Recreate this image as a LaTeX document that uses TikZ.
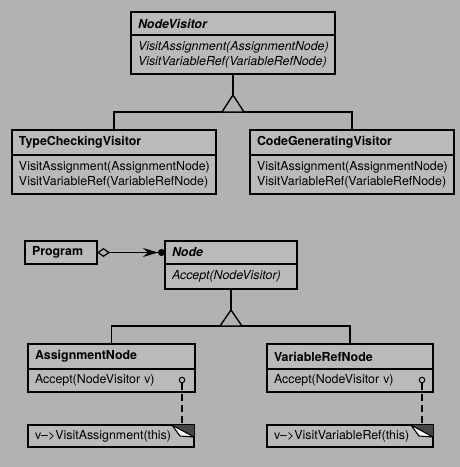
\documentclass[tikz,border=0pt]{standalone}
\usepackage{fontspec}
\setmainfont{TeX Gyre Heros}
\usetikzlibrary{positioning,arrows.meta}

\definecolor{paper}{gray}{0.70}
\definecolor{boxgray}{gray}{0.73}
\definecolor{foldgray}{gray}{0.28}

\tikzset{
  umlline/.style={line width=1.4pt},
  umlbox/.style={draw, umlline, fill=boxgray, inner xsep=7pt, inner ysep=0pt,
    outer sep=0pt, align=left, font=\fontsize{12.4}{15}\selectfont},
  clshead/.style={umlbox, font=\fontsize{12.4}{15}\selectfont\bfseries},
  clsops/.style={umlbox},
  notebox/.style={umlbox},
  lolli/.style={circle, draw, line width=1pt, fill=boxgray, inner sep=0pt, minimum size=5.5pt},
  notelink/.style={line width=1.2pt, dash pattern=on 7pt off 4pt}
}

\begin{document}
\begin{tikzpicture}[x=1pt, y=-1pt]
    % paper
    \fill[paper] (0,0) rectangle (460,467);

    % class NodeVisitor
    \node[clshead, text width=190pt, minimum height=23pt, anchor=north west] (nvhead) at (131,12) {\itshape NodeVisitor};
    \node[clsops, text width=190pt, minimum height=39pt, below=0pt of nvhead] (nvops) {\itshape VisitAssignment(AssignmentNode)\\\itshape VisitVariableRef(VariableRefNode)};

    % class TypeCheckingVisitor
    \node[clshead, text width=190pt, minimum height=25pt, anchor=north west] (tchead) at (12,130) {TypeCheckingVisitor};
    \node[clsops, text width=190pt, minimum height=39pt, below=0pt of tchead] (tcops) {VisitAssignment(AssignmentNode)\\VisitVariableRef(VariableRefNode)};

    % class CodeGeneratingVisitor
    \node[clshead, text width=190pt, minimum height=25pt, anchor=north west] (cghead) at (250,130) {CodeGeneratingVisitor};
    \node[clsops, text width=190pt, minimum height=39pt, below=0pt of cghead] (cgops) {VisitAssignment(AssignmentNode)\\VisitVariableRef(VariableRefNode)};

    % generalization NodeVisitor
    \coordinate (nvbar) at (233,112);
    \draw[umlline] (nvops.south) -- ++(0,21) coordinate (nvapex);
    \draw[umlline] (tchead.north) |- (nvbar) -| (cghead.north);
    \draw[umlline, fill=paper] (nvapex) -- ++(-11,17) -- ++(22,0) -- cycle;

    % class Program
    \node[clshead, text width=58pt, minimum height=23pt, anchor=north west] (proghead) at (25,241) {Program};

    % class Node
    \node[clshead, text width=118pt, minimum height=23pt, anchor=north west] (nodehead) at (165,241) {\itshape Node};
    \node[clsops, text width=118pt, minimum height=25pt, below=0pt of nodehead] (nodeops) {\itshape Accept(NodeVisitor)};

    % aggregation Program - Node
    \draw[line width=1.2pt, {Diamond[open, length=13pt, width=9pt]}-{Stealth[length=15pt, width=9pt] Circle[length=7pt]}] (proghead.east) -- (nodehead.west);

    % class AssignmentNode
    \node[clshead, text width=153pt, minimum height=25pt, anchor=north west] (anhead) at (28,344) {AssignmentNode};
    \node[clsops, text width=153pt, minimum height=23pt, below=0pt of anhead] (anops) {Accept(NodeVisitor v)};

    % class VariableRefNode
    \node[clshead, text width=152pt, minimum height=25pt, anchor=north west] (vrhead) at (267,344) {VariableRefNode};
    \node[clsops, text width=152pt, minimum height=23pt, below=0pt of vrhead] (vrops) {Accept(NodeVisitor v)};

    % generalization Node
    \coordinate (nodebar) at (231,326);
    \draw[umlline] (nodeops.south) -- ++(0,21) coordinate (nodeapex);
    \draw[umlline] (anhead.north) |- (nodebar) -| (vrhead.north);
    \draw[umlline, fill=paper] (nodeapex) -- ++(-11,16) -- ++(22,0) -- cycle;

    % notes
    \node[notebox, text width=152pt, minimum height=22pt, anchor=north west] (annote) at (28,425) {v\textendash>VisitAssignment(this)};
    \node[notebox, text width=152pt, minimum height=22pt, anchor=north west] (vrnote) at (267,425) {v\textendash>VisitVariableRef(this)};

    % folded corners
    \foreach \n in {annote,vrnote}{
        \fill[foldgray] (\n.north east) -- ++(-22,0) -- ++(22,12) -- cycle;
        \draw[line width=1.1pt, fill=white, line join=round] (\n.north east) ++(-22,0) -- ++(22,12) -- ++(-14,-1) -- cycle;
    }

    % note links
    \node[lolli] (anport) at (182,380) {};
    \node[lolli] (vrport) at (422,380) {};
    \draw[notelink] (anport) -- (anport |- annote.north);
    \draw[notelink] (vrport) -- (vrport |- vrnote.north);
\end{tikzpicture}
\end{document}
